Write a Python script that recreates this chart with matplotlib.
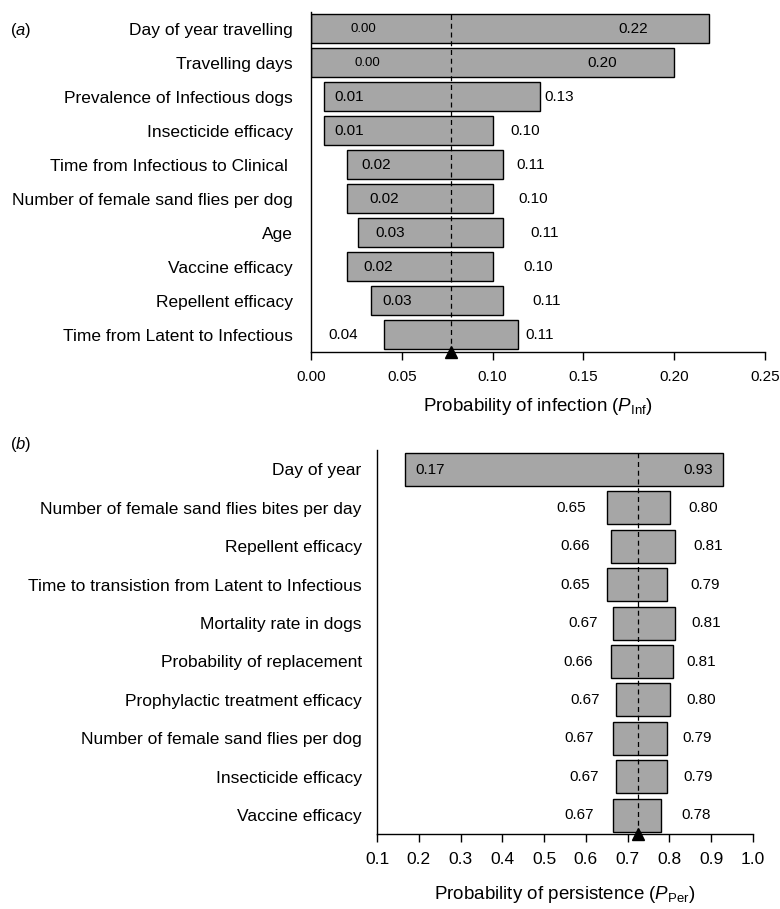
import matplotlib

matplotlib.use("Agg")
import matplotlib.pyplot as plt
import numpy as np

plt.rcParams.update({
    "font.family": ["Liberation Sans", "DejaVu Sans"],
    "mathtext.fontset": "custom",
    "mathtext.rm": "Liberation Sans",
    "mathtext.it": "Liberation Sans:italic",
})

# panel (a): probability of infection
INF_PARAMS = ["Day of year travelling", "Travelling days",
              "Prevalence of Infectious dogs", "Insecticide efficacy",
              "Time from Infectious to Clinical ",
              "Number of female sand flies per dog", "Age",
              "Vaccine efficacy", "Repellent efficacy",
              "Time from Latent to Infectious"]
INF_LO = [0.0, 0.0, 0.007, 0.007, 0.020, 0.020, 0.026, 0.020, 0.033, 0.040]
INF_HI = [0.219, 0.200, 0.126, 0.100, 0.106, 0.100, 0.106, 0.100, 0.106, 0.114]
INF_MEAN = 0.077

# panel (b): probability of persistence
PER_PARAMS = ["Day of year", "Number of female sand flies bites per day",
              "Repellent efficacy",
              "Time to transistion from Latent to Infectious",
              "Mortality rate in dogs", "Probability of replacement",
              "Prophylactic treatment efficacy",
              "Number of female sand flies per dog", "Insecticide efficacy",
              "Vaccine efficacy"]
PER_LO = [0.167, 0.650, 0.659, 0.650, 0.666, 0.659, 0.673, 0.666, 0.673, 0.666]
PER_HI = [0.929, 0.801, 0.814, 0.794, 0.814, 0.808, 0.801, 0.794, 0.794, 0.780]
PER_MEAN = 0.725

# layout: where the value labels sit (data units, as placed by hand in the original)
INF_LO_TX = [0.0286, 0.0313, 0.0209, 0.0209, 0.0357, 0.0401, 0.0438, 0.0372, 0.0474, 0.0176]
INF_HI_TX = [0.1775, 0.1604, 0.1368, 0.1180, 0.1207, 0.1224, 0.1286, 0.1253, 0.1295, 0.1258]
PER_LO_TX = [0.2268, 0.5658, 0.5754, 0.5754, 0.5928, 0.5809, 0.5993, 0.5833, 0.5952, 0.5833]
PER_HI_TX = [0.8687, 0.8806, 0.8926, 0.8847, 0.8887, 0.8768, 0.8768, 0.8663, 0.8687, 0.8632]

W, H = 780, 909
fig = plt.figure(figsize=(W / 100, H / 100), dpi=100)
ax_a = fig.add_axes([311 / W, 1 - 351.7 / H, 454 / W, 340 / H])
ax_b = fig.add_axes([377 / W, 74.7 / H, 376 / W, 384 / H])


def tornado(ax, names, lo, hi, mean, lo_tx, hi_tx, bar_h, lab_pad, small_rows=()):
    lo, hi = np.asarray(lo), np.asarray(hi)
    y = np.arange(len(names))
    ax.barh(y, hi - lo, left=lo, height=bar_h, color="#a6a6a6",
            edgecolor="black", linewidth=1.0, zorder=2)
    ax.axvline(mean, color="black", ls=(0, (4, 3)), lw=0.9, zorder=3)
    ax.plot([mean], [len(names) - 0.5], marker="^", ms=8, color="black",
            clip_on=False, zorder=4)
    for i in y:
        fs = 9.5 if i in small_rows else 11
        ax.text(lo_tx[i], i, f"{lo[i]:.2f}", ha="center", va="center", fontsize=fs, zorder=5)
        ax.text(hi_tx[i], i, f"{hi[i]:.2f}", ha="center", va="center", fontsize=11, zorder=5)
    ax.set_ylim(len(names) - 0.5, -0.5)
    ax.set_yticks(y)
    ax.set_yticklabels(names, fontsize=12.5)
    ax.tick_params(axis="y", length=0, pad=lab_pad)
    ax.tick_params(axis="x", direction="out", length=6, width=1.0, pad=7)
    for s in ("top", "right"):
        ax.spines[s].set_visible(False)
    for s in ("left", "bottom"):
        ax.spines[s].set_linewidth(1.0)


tornado(ax_a, INF_PARAMS, INF_LO, INF_HI, INF_MEAN, INF_LO_TX, INF_HI_TX,
        0.85, 13, small_rows=(0, 1))
ax_a.set_xlim(0, 0.25)
ax_a.set_xticks(np.arange(0, 0.251, 0.05))
ax_a.set_xticklabels([f"{t:.2f}" for t in np.arange(0, 0.251, 0.05)], fontsize=11)
ax_a.set_xlabel(r"Probability of infection ($P_{\mathrm{Inf}}$)", fontsize=13.5, labelpad=9)

tornado(ax_b, PER_PARAMS, PER_LO, PER_HI, PER_MEAN, PER_LO_TX, PER_HI_TX,
        0.86, 11)
ax_b.set_xlim(0.1, 1.0)
ax_b.set_xticks(np.arange(0.1, 1.01, 0.1))
ax_b.set_xticklabels([f"{t:.1f}" for t in np.arange(0.1, 1.01, 0.1)], fontsize=12.5)
ax_b.set_xlabel(r"Probability of persistence ($P_{\mathrm{Per}}$)", fontsize=13.5, labelpad=12)

fig.text(10 / W, 1 - 30 / H, r"($\mathit{a}$)", fontsize=12, va="center")
fig.text(10 / W, 1 - 444 / H, r"($\mathit{b}$)", fontsize=12, va="center")

fig.savefig("out.png", dpi=100)
